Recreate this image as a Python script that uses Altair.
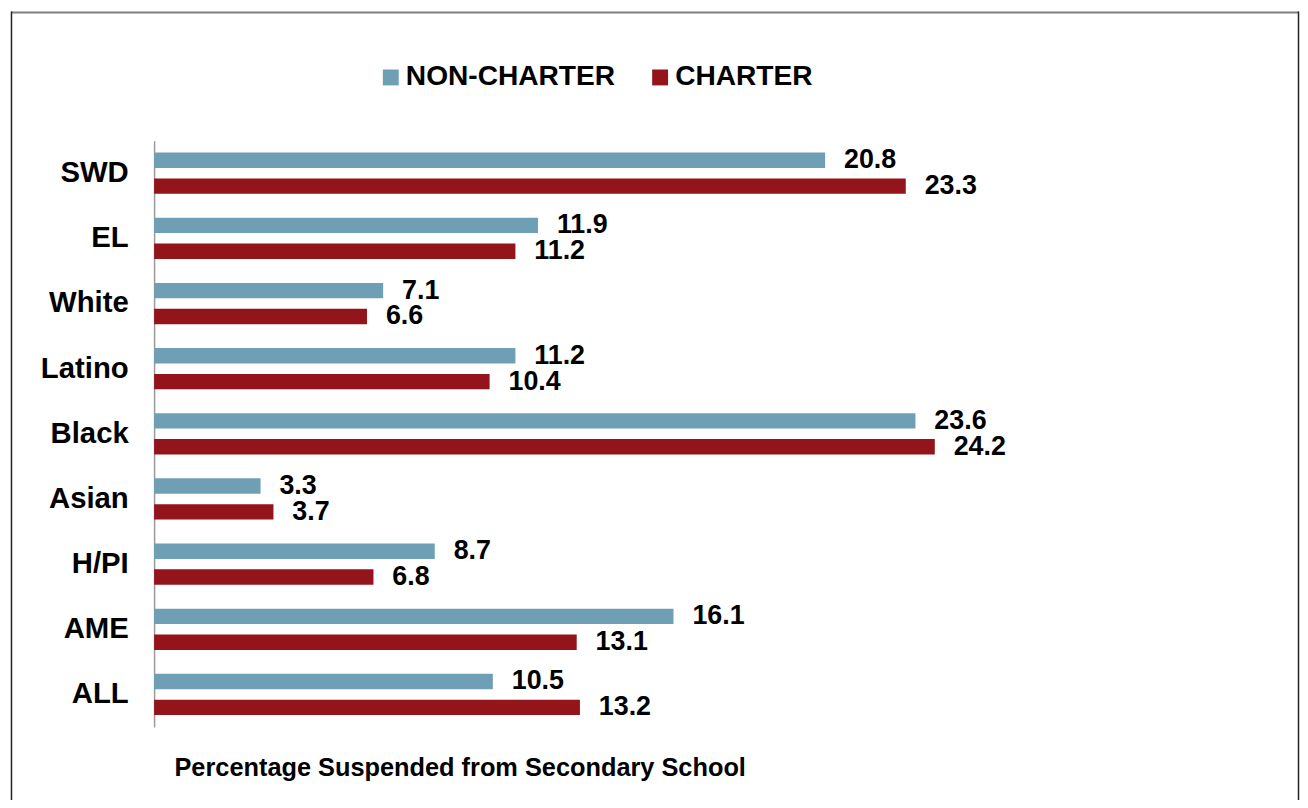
import altair as alt
import pandas as pd

categories = ["SWD", "EL", "White", "Latino", "Black", "Asian", "H/PI", "AME", "ALL"]
non_charter = [20.8, 11.9, 7.1, 11.2, 23.6, 3.3, 8.7, 16.1, 10.5]
charter = [23.3, 11.2, 6.6, 10.4, 24.2, 3.7, 6.8, 13.1, 13.2]
series = ["NON-CHARTER", "CHARTER"]
colors = ["#6f9fb4", "#94141b"]
x_title = "Percentage Suspended from Secondary School"

rows = []
for c, a, b in zip(categories, non_charter, charter):
    rows.append({"group": c, "series": series[0], "value": a})
    rows.append({"group": c, "series": series[1], "value": b})
df = pd.DataFrame(rows)

FONT = "Liberation Sans"

y = alt.Y(
    "group:N",
    sort=categories,
    scale=alt.Scale(paddingInner=0.367, paddingOuter=0.1835),
    axis=alt.Axis(
        title=None, domain=True, domainColor="#9a9a9a", domainWidth=1.5,
        ticks=False, labelPadding=26, labelFont=FONT, labelFontSize=29.5,
        labelFontWeight="bold", labelColor="black", grid=False,
    ),
)
yoff = alt.YOffset("series:N", sort=series,
                   scale=alt.Scale(domain=series, paddingInner=0.405, paddingOuter=0))
x = alt.X(
    "value:Q",
    scale=alt.Scale(domain=[0, 34.75], nice=False, zero=True),
    axis=alt.Axis(
        title=x_title, labels=False, ticks=False, domain=False, grid=False,
        titleFont=FONT, titleFontSize=25.5, titleFontWeight="bold", titleColor="black",
        titleX=20, titleY=49, titleAlign="left", titleBaseline="alphabetic",
        titleAnchor="start",
    ),
)
color = alt.Color(
    "series:N",
    sort=series,
    scale=alt.Scale(domain=series, range=colors),
    legend=alt.Legend(
        title=None, orient="none", legendX=224, legendY=-78, direction="horizontal",
        symbolType="square", symbolSize=256, symbolStrokeWidth=0,
        labelFont=FONT, labelFontSize=28.3, labelFontWeight="bold", labelColor="black",
        labelOffset=1, columnPadding=31, labelLimit=0,
    ),
)

bars = alt.Chart(df).mark_bar().encode(x=x, y=y, yOffset=yoff, color=color)

labels = alt.Chart(df).mark_text(
    align="left", baseline="middle", dx=19, font=FONT, fontSize=27,
    fontWeight="bold", color="black",
).encode(
    x="value:Q",
    y=alt.Y("group:N", sort=categories),
    yOffset=alt.YOffset("series:N", sort=series),
    text=alt.Text("value:Q", format=".1f"),
)

border_df = pd.DataFrame({"k": [0]})
top_rule = alt.Chart(border_df).mark_rule(color="#808080", strokeWidth=2).encode(
    x=alt.value(-144), x2=alt.value(1152), y=alt.value(-129))
left_rule = alt.Chart(border_df).mark_rule(color="#222222", strokeWidth=1.5).encode(
    x=alt.value(-143.5), y=alt.value(-130), y2=alt.value(700))
right_rule = alt.Chart(border_df).mark_rule(color="#222222", strokeWidth=1.5).encode(
    x=alt.value(1151.5), y=alt.value(-130), y2=alt.value(700))

chart = alt.layer(bars, labels, top_rule, left_rule, right_rule).properties(
    width=1128,
    height=590,
    autosize=alt.AutoSizeParams(type="none"),
    padding={"left": 147, "top": 131, "right": 25, "bottom": 71},
    background="white",
).configure_view(stroke=None)

chart.save("out.html", embed_options={"renderer": "svg", "actions": False})
